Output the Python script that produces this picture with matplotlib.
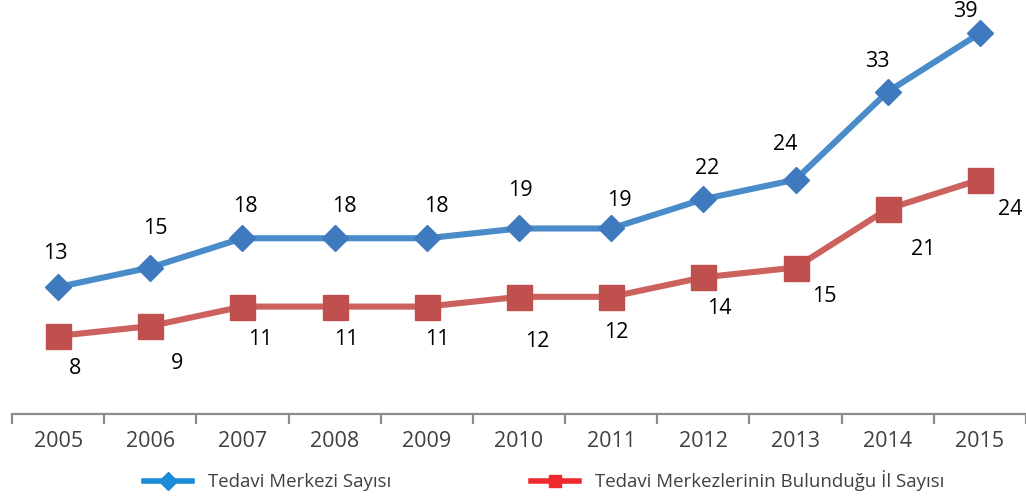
import matplotlib
matplotlib.use('Agg')
import matplotlib.pyplot as plt
from matplotlib.lines import Line2D

years = ['2005', '2006', '2007', '2008', '2009', '2010',
         '2011', '2012', '2013', '2014', '2015']
merkez = [13, 15, 18, 18, 18, 19, 19, 22, 24, 33, 39]
il = [8, 9, 11, 11, 11, 12, 12, 14, 15, 21, 24]
labels_merkez = 'Tedavi Merkezi Sayısı'
labels_il = 'Tedavi Merkezlerinin Bulunduğu İl Sayısı'

# label offsets in pixels (Excel-style placement)
off_merkez = [(-3, 34), (5, 39), (3, 32), (10, 32), (10, 32), (1, 38),
              (8, 28), (4, 31), (-10, 35), (-10, 30), (-15, 22)]
off_il = [(17, -33), (27, -37), (18, -33), (12, -33), (10, -33), (18, -45),
          (5, -36), (16, -31), (29, -29), (35, -41), (30, -30)]

plt.rcParams['font.family'] = ['Open Sans', 'DejaVu Sans']

fig = plt.figure(figsize=(10.26, 4.99), dpi=100)
ax = fig.add_axes([12 / 1026, 85 / 499, 1 - 12 / 1026, 1 - 85 / 499])

x = list(range(len(years)))
ax.plot(x, merkez, color='#4a8bc9', lw=4.4, marker='D', ms=13,
        mfc='#3f79be', mec='#3f79be', clip_on=False, zorder=3)
ax.plot(x, il, color='#cc615d', lw=4.4, marker='s', ms=18,
        mfc='#c0504d', mec='#c0504d', clip_on=False, zorder=3)

for i, v in enumerate(merkez):
    ax.annotate(str(v), (i, v), xytext=off_merkez[i], textcoords='offset pixels',
                ha='center', va='center', fontsize=15.5, color='black')
for i, v in enumerate(il):
    ax.annotate(str(v), (i, v), xytext=off_il[i], textcoords='offset pixels',
                ha='center', va='center', fontsize=15.5, color='black')

ax.set_xlim(-0.5, len(years) - 0.5)
ax.set_ylim(0, 42.4)
for s in ['top', 'right', 'left']:
    ax.spines[s].set_visible(False)
ax.spines['bottom'].set_color('#8c8c8c')
ax.spines['bottom'].set_linewidth(1.6)
ax.set_yticks([])
ax.set_xticks([i - 0.5 for i in range(len(years) + 1)])
ax.set_xticklabels([])
ax.set_xticks(x, minor=True)
ax.set_xticklabels(years, minor=True, fontsize=15.5, color='#404040')
ax.tick_params(axis='x', which='major', length=7, width=1.6, color='#8c8c8c',
               direction='out')
ax.tick_params(axis='x', which='minor', length=0, pad=12)

handles = [Line2D([], [], color='#1a8bd6', lw=4, marker='D', ms=9,
                  mfc='#1a8bd6', mec='#1a8bd6'),
           Line2D([], [], color='#ee2a2e', lw=4, marker='s', ms=9,
                  mfc='#ee2a2e', mec='#ee2a2e')]
leg = fig.legend(handles, [labels_merkez, labels_il], ncol=2, frameon=False,
                 loc='center left', bbox_to_anchor=(144 / 1026, 18 / 499),
                 borderpad=0, borderaxespad=0, handlelength=2.6,
                 handletextpad=0.85, columnspacing=7.5, fontsize=13.4)
for t in leg.get_texts():
    t.set_color('#404040')

fig.savefig('out.png', dpi=100)
